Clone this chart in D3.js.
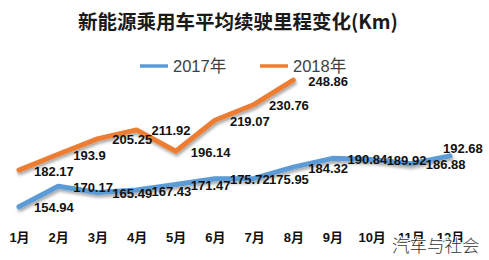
<!DOCTYPE html>
<html>
<head>
<meta charset="utf-8">
<script src="https://cdn.jsdelivr.net/npm/d3@7"></script>
<style>
  html, body { margin: 0; padding: 0; background: #fff; }
  svg { display: block; }
</style>
</head>
<body>
<div id="chart"></div>
<script>
const months = ['1月','2月','3月','4月','5月','6月','7月','8月','9月','10月','11月','12月'];
const values2017 = [154.94, 170.17, 165.49, 167.43, 171.47, 175.72, 175.95, 184.32, 190.84, 189.92, 186.88, 192.68];
const values2018 = [182.17, 193.9, 205.25, 211.92, 196.14, 219.07, 230.76, 248.86];
const seriesNames = ['2017年', '2018年'];
const titleText = '新能源乘用车平均续驶里程变化(Km)';
const watermark = '汽车与社会';

const W = 489, H = 260;
const colors = ['#5B9BD5', '#ED7D31'];

const svg = d3.select('#chart').append('svg')
  .attr('width', W).attr('height', H);

svg.append('rect').attr('width', W).attr('height', H).attr('fill', '#fff');

// shadow under the lines
const defs = svg.append('defs');
const f = defs.append('filter').attr('id', 'shadow')
  .attr('x', '-10%').attr('y', '-30%').attr('width', '120%').attr('height', '160%');
f.append('feDropShadow')
  .attr('dx', 1).attr('dy', 2.5).attr('stdDeviation', 1.5)
  .attr('flood-color', '#000').attr('flood-opacity', 0.35);

const x = d3.scalePoint().domain(months).range([19, 450]);
const y = d3.scaleLinear().domain([140, 260]).range([227, 65]);

// title
svg.append('text')
  .attr('x', 78).attr('y', 29)
  .attr('font-family', '"Noto Sans CJK SC", sans-serif')
  .attr('font-weight', 'bold')
  .attr('font-size', 19.5)
  .attr('fill', '#1a1a1a')
  .text(titleText);

// legend
const legend = svg.append('g');
[140, 260].forEach((lx, i) => {
  legend.append('line')
    .attr('x1', lx).attr('x2', lx + 28)
    .attr('y1', 66).attr('y2', 66)
    .attr('stroke', colors[i]).attr('stroke-width', 3.5);
  legend.append('text')
    .attr('x', lx + 33).attr('y', 72)
    .attr('font-family', '"Liberation Sans", "Noto Sans CJK SC", sans-serif')
    .attr('font-size', 16.5)
    .attr('fill', '#404040')
    .text(seriesNames[i]);
});

// x axis
const xAxis = d3.axisBottom(x).tickSize(0).tickPadding(0);
const gx = svg.append('g')
  .attr('transform', 'translate(0,233)')
  .call(xAxis);
gx.select('.domain').remove();
gx.selectAll('text')
  .attr('font-family', '"Liberation Sans", "Noto Sans CJK SC", sans-serif')
  .attr('font-weight', 'bold')
  .attr('font-size', 13)
  .attr('fill', '#111')
  .attr('dy', '0.71em');

const line = d3.line()
  .x((d, i) => x(months[i]))
  .y(d => y(d));

[values2017, values2018].forEach((vals, si) => {
  svg.append('path')
    .datum(vals)
    .attr('fill', 'none')
    .attr('stroke', colors[si])
    .attr('stroke-width', 5)
    .attr('stroke-linejoin', 'round')
    .attr('stroke-linecap', 'round')
    .attr('filter', 'url(#shadow)')
    .attr('d', line);
});

// data labels, to the right of each point
[values2017, values2018].forEach((vals, si) => {
  const g = svg.append('g');
  vals.forEach((v, i) => {
    const px = x(months[i]), py = y(v);
    const t = g.append('text')
      .attr('font-family', '"Liberation Sans", sans-serif')
      .attr('font-weight', 'bold')
      .attr('font-size', 13)
      .attr('fill', '#111')
      .attr('dy', '0.35em')
      .text(v);
    const tw = t.node().getComputedTextLength();
    if (px + 15 + tw > W - 8) {
      t.attr('x', px - 7).attr('y', py - 7);
    } else {
      t.attr('x', px + 15).attr('y', py + 1);
    }
  });
});

// watermark
svg.append('text')
  .attr('x', 392).attr('y', 252)
  .attr('font-family', '"Noto Sans CJK SC", sans-serif')
  .attr('font-weight', 300)
  .attr('font-size', 17.5)
  .attr('fill', '#333')
  .attr('stroke', '#fff')
  .attr('stroke-width', 2)
  .attr('paint-order', 'stroke')
  .text(watermark);
</script>
</body>
</html>
